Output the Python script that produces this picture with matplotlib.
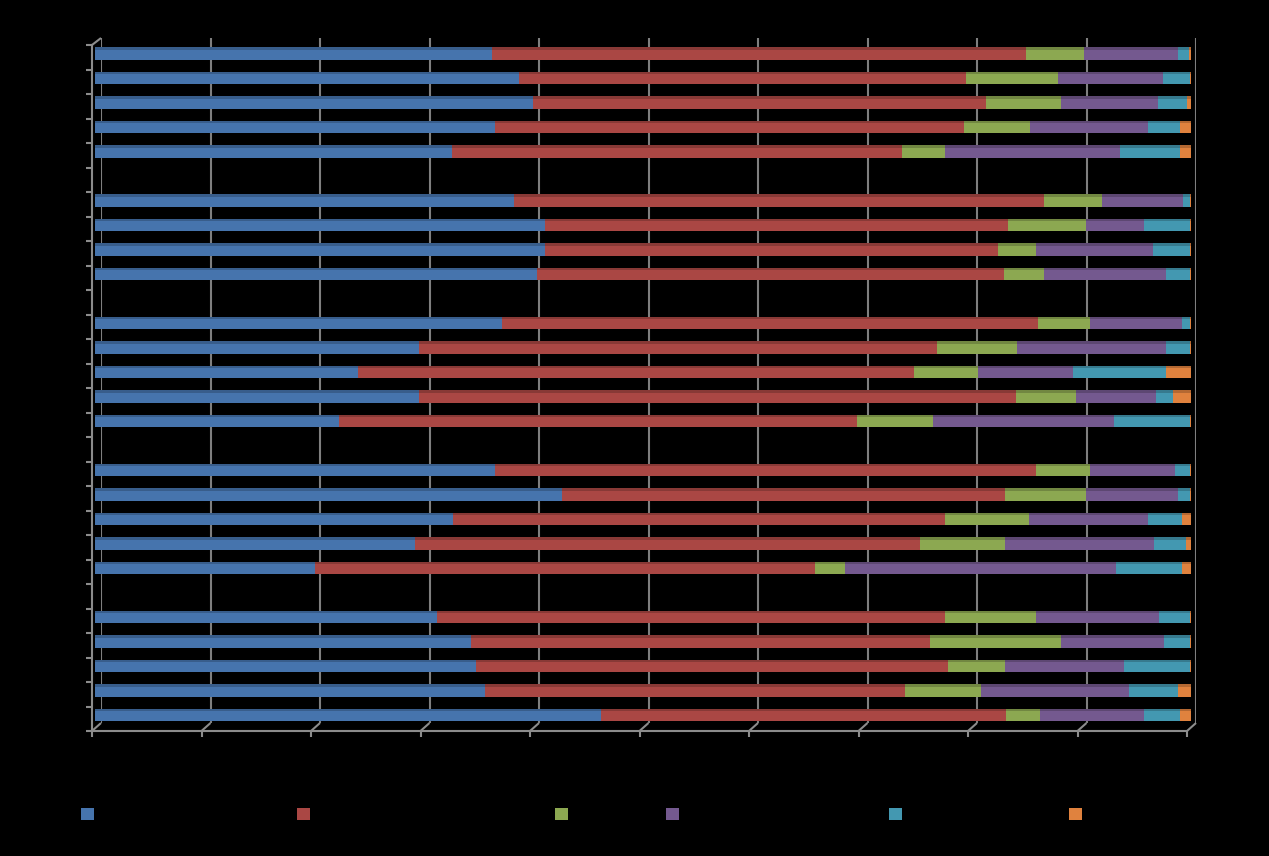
import numpy as np
import matplotlib
matplotlib.use('Agg')
import matplotlib.pyplot as plt
from matplotlib.patches import Patch

# ---------------- data (rows top to bottom, None = empty spacer row) ----------------
series_names = ['Series 1', 'Series 2', 'Series 3', 'Series 4', 'Series 5', 'Series 6']
categories = ['A1', 'A2', 'A3', 'A4', 'A5', '',
              'B1', 'B2', 'B3', 'B4', '',
              'C1', 'C2', 'C3', 'C4', 'C5', '',
              'D1', 'D2', 'D3', 'D4', 'D5', '',
              'E1', 'E2', 'E3', 'E4', 'E5']
s1 = [36.2, 38.7, 40.0, 36.5, 32.6, None, 38.2, 41.1, 41.1, 40.3, None,
      37.1, 29.6, 24.0, 29.6, 22.3, None, 36.5, 42.6, 32.7, 29.2, 20.1, None,
      31.2, 34.3, 34.8, 35.6, 46.2]
s2 = [48.7, 40.8, 41.3, 42.8, 41.0, None, 48.4, 42.2, 41.3, 42.6, None,
      48.9, 47.2, 50.7, 54.4, 47.2, None, 49.4, 40.4, 44.9, 46.1, 45.6, None,
      46.4, 41.9, 43.0, 38.3, 36.9]
s3 = [5.3, 8.4, 6.8, 6.0, 4.0, None, 5.3, 7.1, 3.5, 3.7, None,
      4.8, 7.3, 5.9, 5.5, 7.0, None, 4.9, 7.4, 7.6, 7.7, 2.7, None,
      8.3, 11.9, 5.2, 6.9, 3.1]
s4 = [8.6, 9.5, 8.9, 10.8, 15.9, None, 7.4, 5.3, 10.6, 11.1, None,
      8.4, 13.6, 8.6, 7.3, 16.5, None, 7.7, 8.4, 10.9, 13.6, 24.8, None,
      11.2, 9.4, 10.9, 13.5, 9.5]
s5 = [1.0, 2.5, 2.6, 2.9, 5.5, None, 0.6, 4.2, 3.4, 2.2, None,
      0.7, 2.2, 8.5, 1.6, 6.9, None, 1.4, 1.1, 3.1, 2.9, 6.0, None,
      2.8, 2.4, 6.0, 4.5, 3.3]
s6 = [0.2, 0.1, 0.4, 1.0, 1.0, None, 0.1, 0.1, 0.1, 0.1, None,
      0.1, 0.1, 2.3, 1.6, 0.1, None, 0.1, 0.1, 0.8, 0.5, 0.8, None,
      0.1, 0.1, 0.1, 1.2, 1.0]

# ---------------- style ----------------
face_colors = ['#4674AD', '#AA4744', '#8CA851', '#74598F', '#4398B1', '#E0823E']
top_colors = ['#385D8B', '#883936', '#718741', '#5D4772', '#367A8E', '#B46832']
grid_color = '#7f7f7f'
axis_color = '#8c8c8c'

W, H, DPI = 1269, 856, 100
fig = plt.figure(figsize=(W / DPI, H / DPI), dpi=DPI, facecolor='black')


def add_px_axes(x0, y0, x1, y1):
    ax = fig.add_axes([x0 / W, 1 - y1 / H, (x1 - x0) / W, (y1 - y0) / H])
    ax.set_facecolor('none')
    return ax


n = len(categories)
data = np.array([[np.nan if v is None else v for v in s] for s in (s1, s2, s3, s4, s5, s6)], dtype=float)
totals = np.nansum(data, axis=0)
pct = np.where(totals > 0, data / np.where(totals > 0, totals, 1) * 100, np.nan)

# back wall with gridlines
ax_back = add_px_axes(101, 38, 1196, 723)
ax_back.set_xlim(0, 100)
ax_back.set_ylim(0, 1)
ax_back.axis('off')
for v in range(0, 101, 10):
    ax_back.axvline(v, color=grid_color, lw=1.5)

# bars
ax_bar = add_px_axes(95, 41.25, 1191, 727.25)
ax_bar.set_xlim(0, 100)
ax_bar.set_ylim(n, 0)
ax_bar.axis('off')
ypos = np.arange(n) + 0.5
bar_h = 0.49
top_h = 0.1
valid = ~np.isnan(pct[0])
left = np.zeros(n)
for k in range(pct.shape[0]):
    w = np.nan_to_num(pct[k])
    ax_bar.barh(ypos[valid], w[valid], left=left[valid], height=bar_h,
                color=face_colors[k], linewidth=0)
    ax_bar.barh(ypos[valid] - bar_h / 2 + top_h / 2, w[valid], left=left[valid],
                height=top_h, color=top_colors[k], linewidth=0)
    left = left + w

# front axis lines
ax_front = add_px_axes(92, 45, 1187, 731)
ax_front.set_xlim(0, 100)
ax_front.set_ylim(0, n)
for s in ['top', 'right']:
    ax_front.spines[s].set_visible(False)
for s in ['left', 'bottom']:
    ax_front.spines[s].set_color(axis_color)
    ax_front.spines[s].set_linewidth(1.5)
ax_front.set_xticks(range(0, 101, 10))
ax_front.set_yticks(range(0, n + 1))
ax_front.tick_params(axis='both', direction='out', length=4.2, width=1.5,
                     color=axis_color, labelleft=False, labelbottom=False)

# 3D connectors between the front axis plane and the back wall
ax_ov = fig.add_axes([0, 0, 1, 1])
ax_ov.set_xlim(0, W)
ax_ov.set_ylim(0, H)
ax_ov.axis('off')
pairs = [((v, 0), (v, 0)) for v in range(0, 101, 10)] + [((0, n), (0, 1))]
for pf, pb in pairs:
    a = ax_front.transData.transform(pf)
    b = ax_back.transData.transform(pb)
    ax_ov.plot([a[0], b[0]], [a[1], b[1]], color=axis_color, lw=1.5,
               solid_capstyle='butt')

# legend (entries spaced as in the reference; label text is black)
legend_x = [81, 297, 555, 666, 889, 1069]
legend_y = 814.5
for k, name in enumerate(series_names):
    lg = fig.legend(handles=[Patch(facecolor=face_colors[k], edgecolor='none')],
                    labels=[name], loc='center left',
                    bbox_to_anchor=(legend_x[k] / W, 1 - legend_y / H),
                    frameon=False, fontsize=10, handlelength=0.93, handleheight=0.93,
                    borderpad=0, borderaxespad=0, handletextpad=0.6, labelcolor='black')

fig.savefig('out.png', dpi=DPI, facecolor='black')
